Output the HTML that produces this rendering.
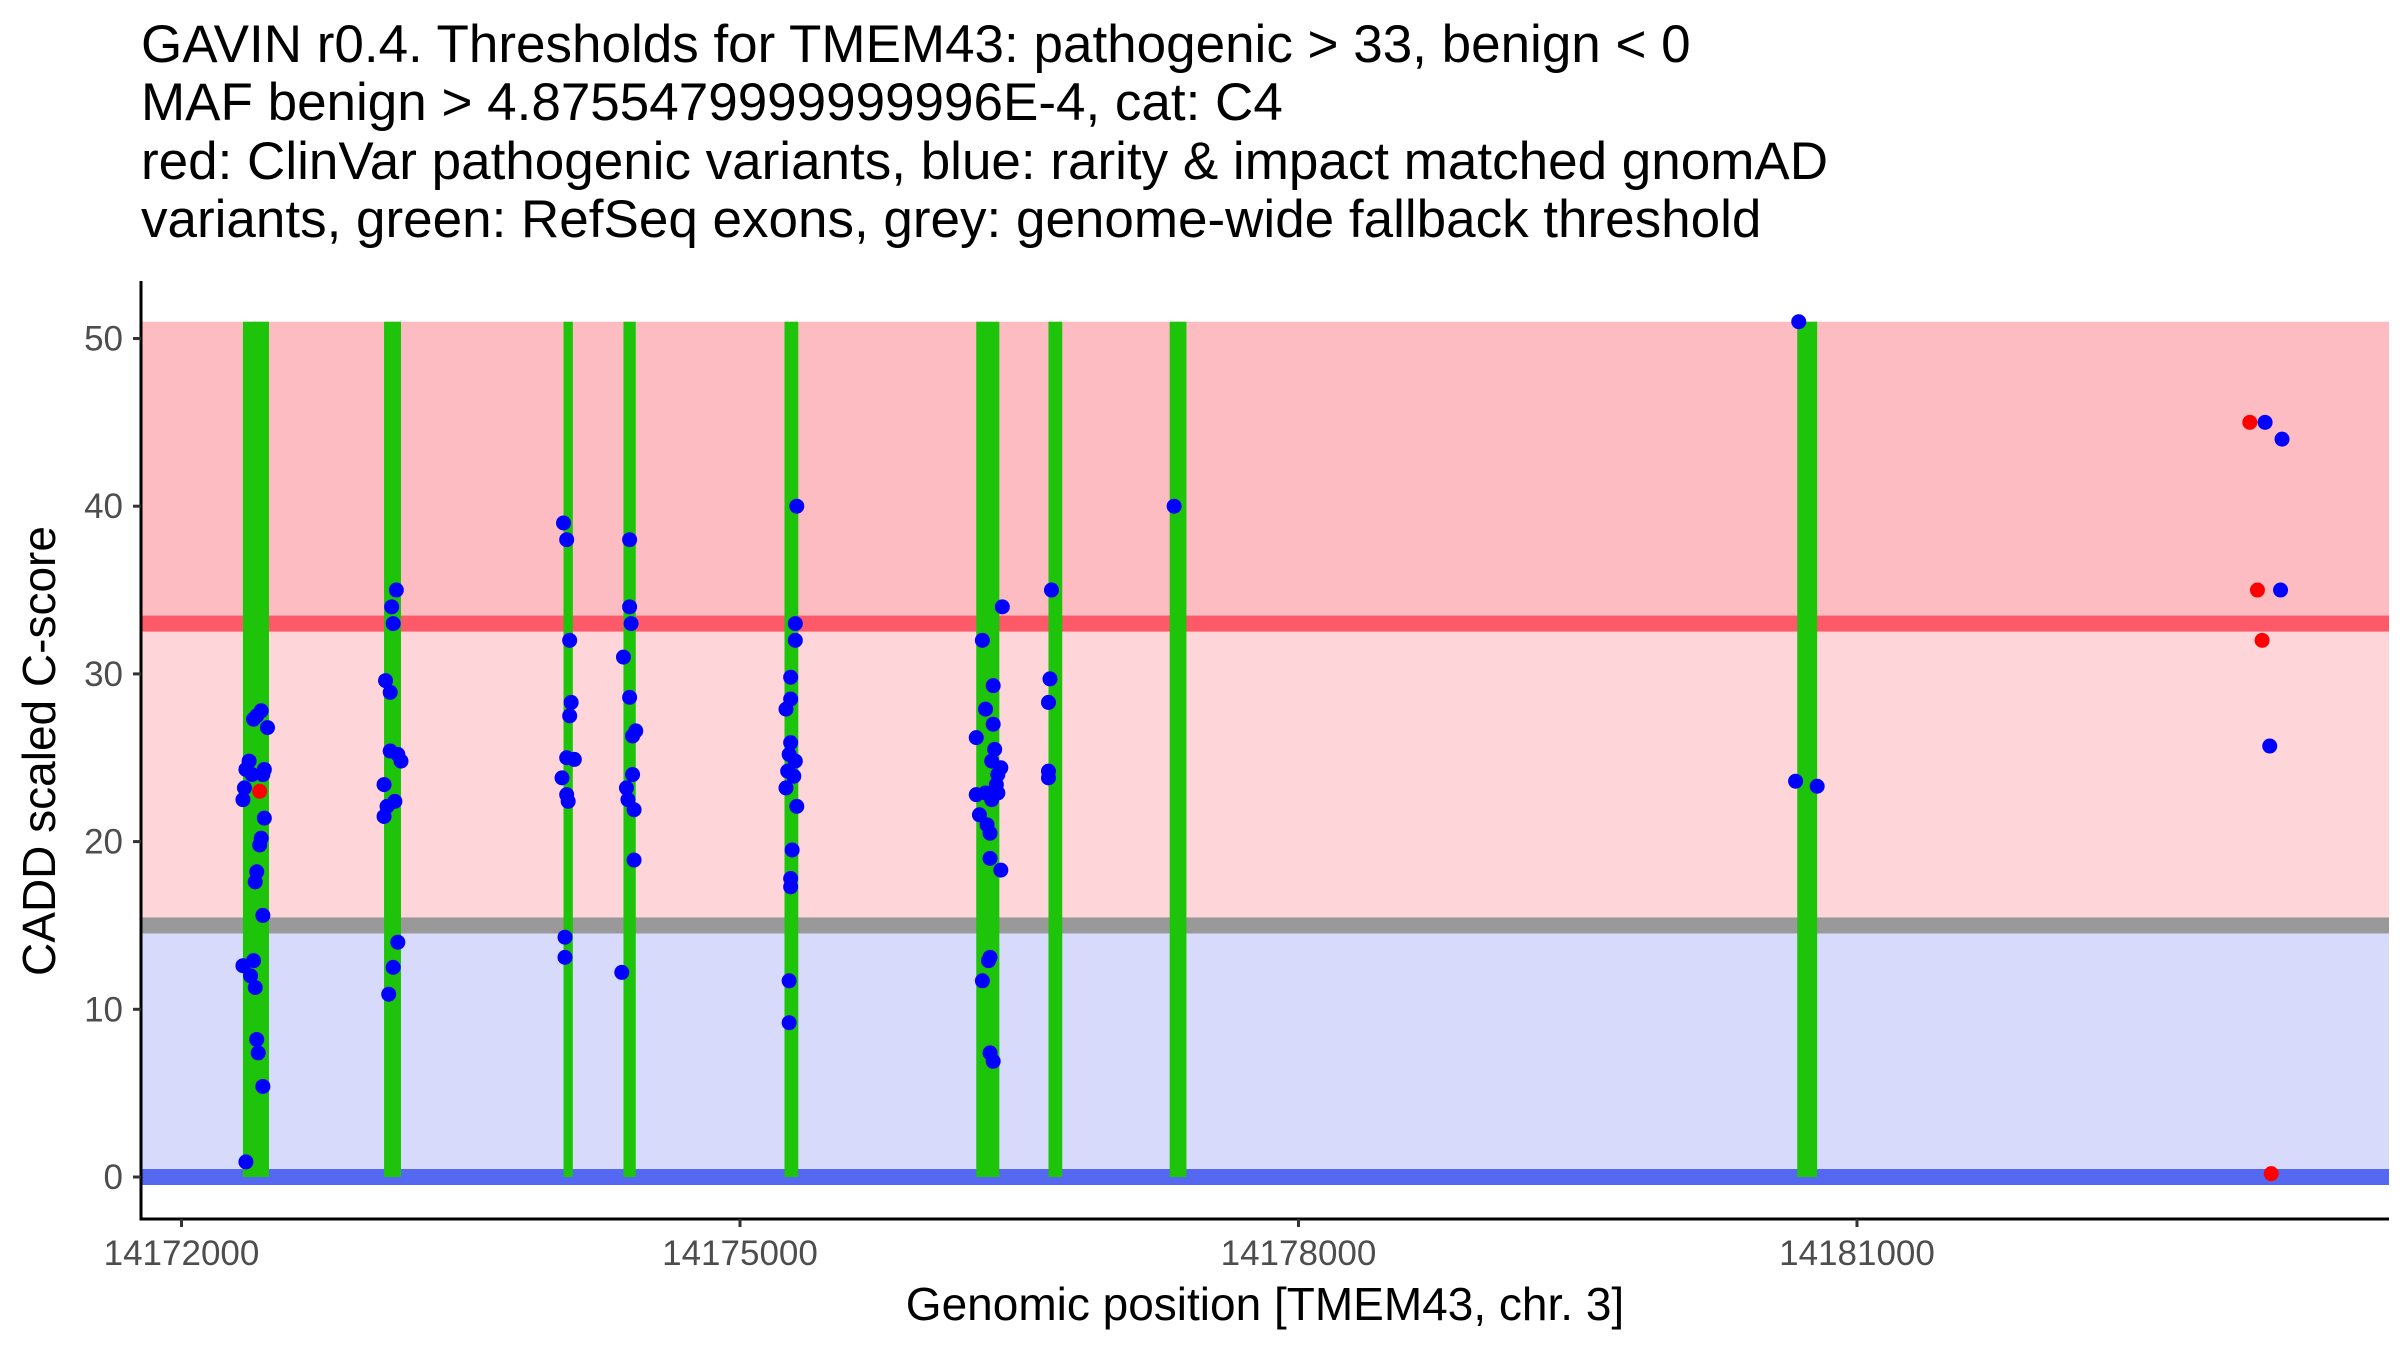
<!DOCTYPE html>
<html><head><meta charset="utf-8"><style>
html,body{margin:0;padding:0;background:#fff}
svg{display:block}
text{font-family:"Liberation Sans",Arial,sans-serif}
</style></head><body>
<svg id="chart" width="2400" height="1350" viewBox="0 0 2400 1350" xmlns="http://www.w3.org/2000/svg">
<g font-size="53" fill="#000">
<text x="141" y="62">GAVIN r0.4. Thresholds for TMEM43: pathogenic &gt; 33, benign &lt; 0</text>
<text x="141" y="120">MAF benign &gt; 4.8755479999999996E-4, cat: C4</text>
<text x="141" y="179">red: ClinVar pathogenic variants, blue: rarity &amp; impact matched gnomAD</text>
<text x="141" y="237">variants, green: RefSeq exons, grey: genome-wide fallback threshold</text>
</g>
<g id="bands"></g>
<g id="exons"></g>
<g id="points"></g>
<g id="axes"></g>
<text x="1265" y="1320" font-size="46" text-anchor="middle" fill="#000">Genomic position [TMEM43, chr. 3]</text>
<text transform="translate(55,751) rotate(-90)" font-size="46" text-anchor="middle" fill="#000">CADD scaled C-score</text>
</svg>
<script>
const xTicks = [14172000, 14175000, 14178000, 14181000];
const yTicks = [0, 10, 20, 30, 40, 50];
const exonStarts = [14172330, 14173088, 14174052, 14174374, 14175239, 14176269, 14176657, 14177308, 14180679];
const exonEnds   = [14172470, 14173179, 14174102, 14174440, 14175313, 14176393, 14176731, 14177398, 14180786];
const bluePos = [
14172330,14172338,14172346,14172363,14172379,14172387,14172404,14172428,14172462,14172445,14172437,14172445,14172428,14172420,14172404,14172396,14172437,14172330,14172387,14172371,14172396,14172404,14172412,14172437,14172346,
14173154,14173129,14173137,14173096,14173121,14173121,14173162,14173179,14173088,14173104,14173088,14173146,14173162,14173137,14173113,
14174052,14174069,14174085,14174093,14174085,14174069,14174110,14174044,14174069,14174077,14174060,14174060,
14174407,14174407,14174415,14174374,14174407,14174440,14174423,14174423,14174390,14174398,14174431,14174431,14174365,
14175305,14175297,14175297,14175272,14175272,14175247,14175272,14175264,14175297,14175256,14175289,14175247,14175305,14175280,14175272,14175272,14175264,14175264,
14176302,14176409,14176360,14176319,14176360,14176269,14176368,14176352,14176401,14176385,14176377,14176269,14176319,14176352,14176385,14176286,14176327,14176343,14176343,14176401,14176343,14176335,14176302,14176343,14176360,
14176673,14176665,14176657,14176657,14176657,
14177332,
14180687,14180670,14180786,
14183192,14183283,14183275,14183217];
const blueVal = [
22.5,23.2,24.3,24.8,24.0,27.3,27.5,27.8,26.8,24.3,24.0,21.4,20.2,19.8,18.2,17.6,15.6,12.6,12.9,12.0,11.3,8.2,7.4,5.4,0.9,
35,34,33,29.6,28.9,25.4,25.2,24.8,23.4,22.1,21.5,22.4,14.0,12.5,10.9,
39,38,32,28.3,27.5,25,24.9,23.8,22.8,22.4,14.3,13.1,
38,34,33,31,28.6,26.6,26.3,24,23.2,22.5,21.9,18.9,12.2,
40,33,32,29.8,28.5,27.9,25.9,25.2,24.8,24.2,23.9,23.2,22.1,19.5,17.8,17.3,11.7,9.2,
32,34,29.3,27.9,27,26.2,25.5,24.8,24.4,24,23.4,22.8,22.9,22.5,22.9,21.6,21,20.5,19,18.3,13.1,12.9,11.7,7.4,6.9,
35,29.7,28.3,24.2,23.8,
40,
51,23.6,23.3,
45,44,35,25.7];
const redPos = [14172420, 14183110, 14183151, 14183176, 14183225];
const redVal = [23, 45, 35, 32, 0.2];
const pathoThr = 33, fallbackThr = 15, benignThr = 0, yTop = 51;

const NS = "http://www.w3.org/2000/svg";
const L = 141, R = 2389, T = 281, B = 1219;
function X(p){ return 181.5 + (p - 14172000) * 0.186167; }
function Y(v){ return 1177 - v * 16.77; }
function mk(tag, attrs, parent){
  const e = document.createElementNS(NS, tag);
  for (const k in attrs) e.setAttribute(k, attrs[k]);
  parent.appendChild(e); return e;
}
const bands = document.getElementById('bands');
let r;
r = mk('rect', {x:L, y:Y(yTop), width:R-L, height:Y(pathoThr)-Y(yTop), fill:'#FDBCC1'}, bands);


r = mk('rect', {x:L, y:Y(pathoThr), width:R-L, height:Y(fallbackThr)-Y(pathoThr), fill:'#FED6DA'}, bands);


r = mk('rect', {x:L, y:Y(fallbackThr), width:R-L, height:Y(benignThr)-Y(fallbackThr), fill:'#D7DAFA'}, bands);


r = mk('rect', {x:L, y:Y(pathoThr)-8, width:R-L, height:16, fill:'#FD5968'}, bands);


r = mk('rect', {x:L, y:Y(fallbackThr)-8, width:R-L, height:16, fill:'#999999'}, bands);


r = mk('rect', {x:L, y:Y(benignThr)-8, width:R-L, height:16, fill:'#5468F2'}, bands);



const ex = document.getElementById('exons');
for (let i = 0; i < exonStarts.length; i++){
  const e = mk('rect', {x:X(exonStarts[i]), y:Y(yTop), width:Math.max(8, X(exonEnds[i])-X(exonStarts[i])), height:Y(0)-Y(yTop), fill:'#1DC40A'}, ex);
  
  
}
const pts = document.getElementById('points');
for (let i = 0; i < bluePos.length; i++){
  const c = mk('circle', {cx:X(bluePos[i]), cy:Y(blueVal[i]), r:7.5, fill:'#0000FF'}, pts);
  
  
}
for (let i = 0; i < redPos.length; i++){
  const c = mk('circle', {cx:X(redPos[i]), cy:Y(redVal[i]), r:7.5, fill:'#FF0000'}, pts);
  
  
}
const ax = document.getElementById('axes');
let a = mk('line', {x1:L, y1:T, x2:L, y2:B+1.5, stroke:'#000', 'stroke-width':3}, ax);


a = mk('line', {x1:L-1.5, y1:B, x2:R, y2:B, stroke:'#000', 'stroke-width':3}, ax);


yTicks.forEach(v => {
  const t = mk('line', {x1:L-8, y1:Y(v), x2:L, y2:Y(v), stroke:'#333', 'stroke-width':3}, ax);
  
  
  const tx = mk('text', {x:L-18, y:Y(v)+12, 'font-size':35, fill:'#4D4D4D', 'text-anchor':'end'}, ax);
  tx.textContent = v;
  
  
});
xTicks.forEach(v => {
  const t = mk('line', {x1:X(v), y1:B, x2:X(v), y2:B+8, stroke:'#333', 'stroke-width':3}, ax);
  
  
  const tx = mk('text', {x:X(v), y:B+46, 'font-size':35, fill:'#4D4D4D', 'text-anchor':'middle'}, ax);
  tx.textContent = v;
  
  
});
</script>
</body></html>
